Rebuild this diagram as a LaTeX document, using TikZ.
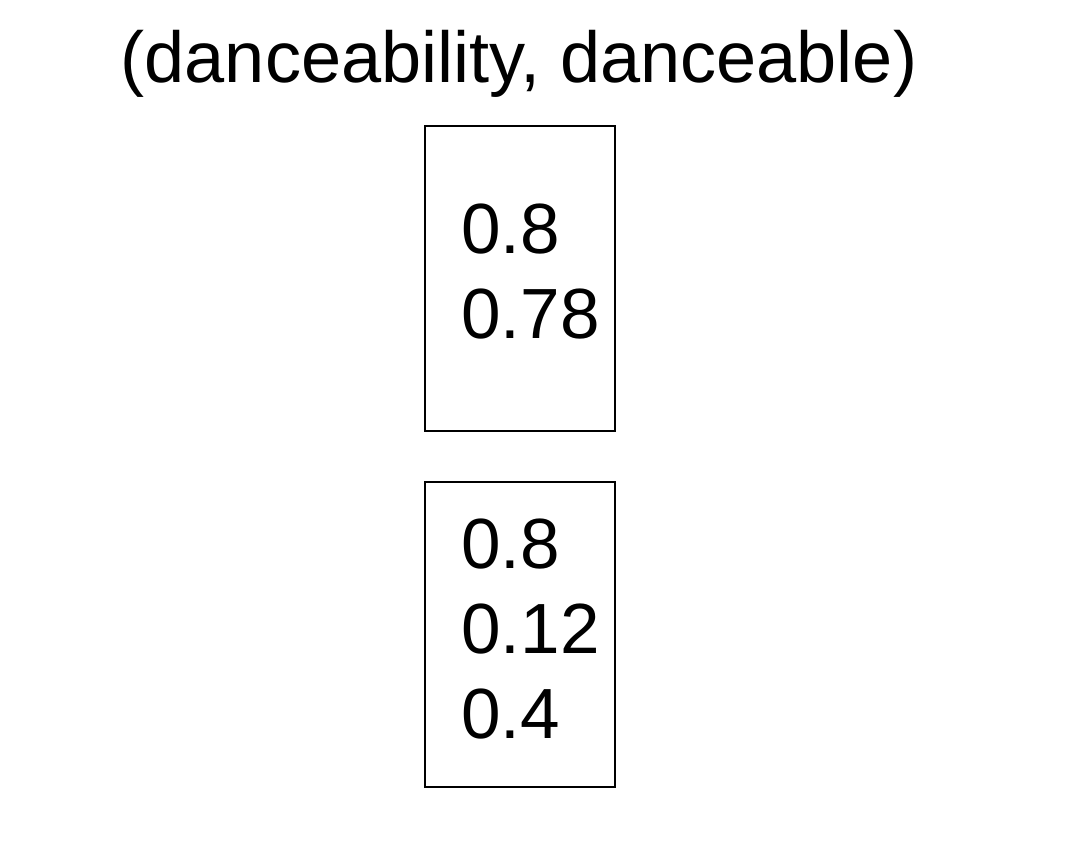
\documentclass[tikz,border=0pt]{standalone}
\usepackage{fontspec}
\setmainfont{Liberation Sans}
\begin{document}
\begin{tikzpicture}[x=0.75pt,y=-0.75pt,
  box/.style={draw=black,line width=1.5pt,minimum width=190*0.75pt,minimum height=305*0.75pt,inner sep=0pt,anchor=north west},
  val/.style={inner sep=0pt,anchor=base west,font=\fontsize{53.3}{60}\selectfont},
  ttl/.style={inner sep=0pt,anchor=base,font=\fontsize{54.1}{60}\selectfont}]
\useasboundingbox (0,0) rectangle (1068,844);
\node[ttl] (title) at (519,82) {(danceability, danceable)};
\node[box] (b1) at (424,125) {};
\node[box] (b2) at (424,481) {};
\node[val] (a1) at (461,253) {0.8};
\node[val] (a2) at (461,338) {0.78};
\node[val] (c1) at (461,568) {0.8};
\node[val] (c2) at (461,653) {0.12};
\node[val] (c3) at (461,738) {0.4};
\end{tikzpicture}
\end{document}
